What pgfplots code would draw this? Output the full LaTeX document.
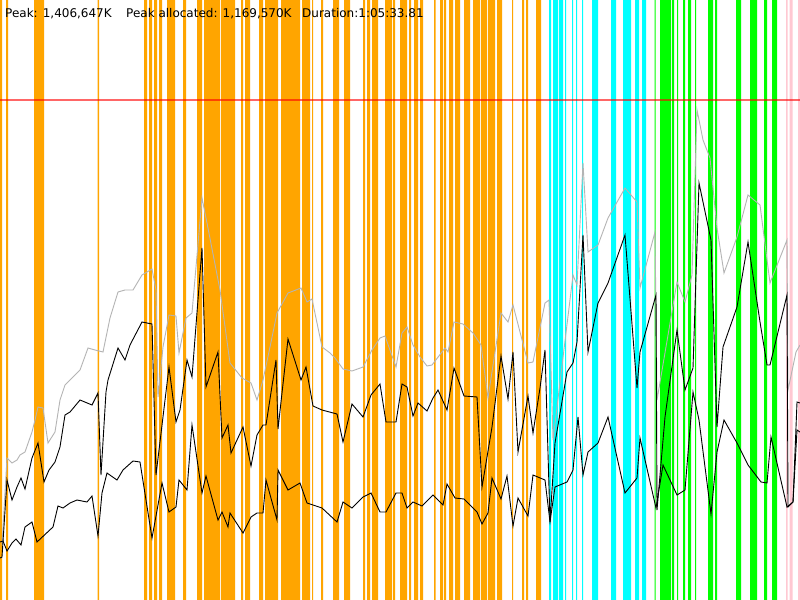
\documentclass[border=0pt]{standalone}
\usepackage{pgfplots}
\pgfplotsset{compat=1.18}
\usepackage{fontspec}
\setmainfont{DejaVu Sans}
\definecolor{gcorange}{RGB}{255,165,0}
\definecolor{gccyan}{RGB}{0,255,255}
\definecolor{gcgreen}{RGB}{0,255,0}
\definecolor{gcpink}{RGB}{255,200,210}
\definecolor{gcgray}{RGB}{180,180,180}
\begin{document}
\begin{tikzpicture}
\fill[white] (0,0) rectangle (800bp,600bp);
\begin{axis}[name=ax, scale only axis, width=800bp, height=600bp,
  xmin=0, xmax=800, ymin=0, ymax=600, y dir=reverse, hide axis, clip=true]
% orange bands
\addplot[const plot, fill=gcorange, draw=none] coordinates {
(0,600)(2,0)(6,600)(8,0)(34,600)(44,0)(97.5,600)(99,0)(144,600)(147,0)(149,600)(152,0)
(154,600)(157,0)(159,600)(162,0)(167,600)(175,0)(183,600)(186,0)(197,600)(202,0)
(204,600)(220,0)(221,600)(235,0)(241,600)(243,0)(245,600)(250,0)(259,600)(263,0)
(265,600)(278,0)(281,600)(300,0)(302,600)(310,0)(312,600)(313,0)(321,600)(323,0)
(333,600)(339,0)(344,600)(350,0)(363,600)(365,0)(367,600)(370,0)(372,600)(378,0)
(385,600)(392,0)(393,600)(395,0)(400,600)(407,0)(409,600)(411,0)(414,600)(418,0)
(420,600)(423,0)(434,600)(435.5,0)(440,600)(443,0)(444,600)(446,0)(449,600)(453,0)
(455,600)(460,0)(464,600)(470,0)(473,600)(480,0)(481,600)(487,0)(488,600)(495,0)
(497,600)(502,0)(512,600)(513,0)(522,600)(524,0)(526,600)(528,0)(536,600)(541,0)
} \closedcycle;
% cyan bands
\addplot[const plot, fill=gccyan, draw=none] coordinates {
(549,600)(551,0)(553,600)(558,0)(559,600)(563,0)(565,600)(566,0)(572,600)(573,0)
(576,600)(577,0)(582,600)(583,0)(592,600)(598,0)(611,600)(616,0)(623,600)(631,0)
(635,600)(639,0)(642,600)(646,0)
} \closedcycle;
% green bands
\addplot[const plot, fill=gcgreen, draw=none] coordinates {
(654.5,600)(655.5,0)(660,600)(671,0)(672,600)(674,0)(677,600)(678,0)(683,600)(685,0)
(688,600)(691,0)(695,600)(696,0)(708,600)(713,0)(715,600)(717,0)(736,600)(741,0)
(750,600)(757,0)(764,600)(767,0)(772,600)(777,0)
} \closedcycle;
% pink bands
\addplot[const plot, fill=gcpink, draw=none] coordinates {
(786,600)(787.5,0)(789.5,600)(792.5,0)(798,600)(800,0)
} \closedcycle;
% gray line
\addplot[gcgray, line width=0.9bp, mark=none] coordinates {
(2,545)(7,458)(12,463)(17,460)(20,455)(25,452)(32,432)(35,420)(38,407)(43,408)(48,443)
(55,432)(60,400)(65,385)(72,378)(80,370)(88,348)(95,350)(103,352)(110,318)(118,292)
(125,290)(133,290)(142,275)(152,269)(156,290)(158,397)(163,347)(169,315)(176,316)
(179,353)(186,318)(192,313)(202,198)(207,223)(220,290)(230,363)(242,378)(251,383)
(257,400)(263,380)(270,347)(277,313)(288,293)(301,288)(307,302)(312,299)(322,347)
(330,353)(335,358)(343,369)(352,371)(363,367)(372,350)(380,338)(385,336)(396,367)
(402,333)(407,327)(413,345)(420,357)(427,366)(432,365)(445,348)(448,352)(454,322)
(463,324)(473,333)(481,345)(488,398)(501,313)(508,322)(513,305)(520,332)(528,363)
(533,362)(545,303)(549,300)(553,440)(573,275)(577,285)(583,163)(588,252)(598,245)
(608,218)(625,188)(637,202)(640,288)(655,232)(657,400)(677,282)(685,302)(692,275)
(697,110)(703,140)(710,158)(717,228)(724,273)(737,237)(748,195)(760,205)(770,283)
(787,240)(788,390)(796,352)(800,345)
};
% upper black line
\addplot[black, line width=0.9bp, mark=none] coordinates {
(0,558)(2,557)(7,480)(12,500)(17,487)(21,478)(25,489)(32,458)(38,443)(44,482)(49,470)
(55,462)(60,447)(65,415)(70,412)(80,400)(92,405)(98,393)(101,475)(106,392)(108,380)
(118,348)(125,360)(130,345)(142,322)(152,324)(156,475)(169,367)(176,422)(180,410)
(187,360)(192,377)(202,248)(206,387)(218,352)(222,438)(228,425)(231,453)(243,427)
(251,466)(257,435)(263,425)(266,425)(276,360)(278,429)(288,339)(301,380)(306,367)
(313,406)(322,410)(337,414)(343,442)(352,404)(363,417)(371,395)(380,384)(386,422)
(396,422)(402,384)(407,387)(413,416)(418,403)(427,411)(433,398)(438,390)(447,410)
(454,368)(464,396)(477,397)(482,487)(492,427)(501,356)(508,399)(513,352)(518,452)
(528,396)(533,433)(540,388)(545,350)(550,522)(555,443)(567,372)(573,363)(577,342)
(583,235)(588,352)(598,303)(608,283)(625,235)(637,388)(640,352)(656,295)(657,510)
(665,417)(677,330)(685,390)(693,368)(699,183)(711,240)(717,427)(723,347)(737,307)
(748,242)(760,322)(767,365)(770,365)(787,295)(788,507)(793,502)(797,402)(800,403)
};
% lower black line
\addplot[black, line width=0.9bp, mark=none] coordinates {
(0,542)(3,541)(7,551)(12,543)(16,539)(21,545)(25,527)(32,522)(37,542)(53,527)(58,506)
(63,508)(70,503)(77,500)(87,502)(92,496)(98,536)(102,493)(107,473)(117,480)(123,470)
(133,461)(140,462)(152,538)(162,483)(169,512)(176,507)(179,480)(187,490)(192,425)
(202,493)(206,476)(218,520)(222,512)(228,527)(230,513)(243,533)(251,517)(257,513)
(263,513)(266,480)(277,520)(278,470)(288,490)(300,483)(307,503)(322,508)(337,522)
(343,502)(352,508)(363,497)(371,493)(380,512)(386,512)(396,493)(402,493)(407,508)
(413,502)(422,506)(433,495)(443,505)(447,484)(455,498)(464,499)(477,512)(482,524)
(488,513)(492,478)(501,499)(507,476)(513,526)(518,498)(528,516)(533,475)(545,480)
(550,522)(555,487)(567,482)(573,470)(578,417)(583,475)(588,452)(598,443)(608,417)
(625,493)(637,478)(640,438)(656,508)(663,465)(677,495)(685,490)(693,392)(699,420)
(711,514)(717,452)(724,420)(737,443)(748,465)(761,482)(767,483)(771,437)(787,507)
(793,502)(797,430)(800,432)
};
% red limit line
\addplot[red, opacity=0.6, line width=2bp, mark=none] coordinates {(0,100)(800,100)};
\node[anchor=base west, inner sep=0pt, font=\fontsize{12bp}{14bp}\selectfont] at (axis cs:5,17.5) {Peak: 1,406,647K};
\node[anchor=base west, inner sep=0pt, font=\fontsize{12bp}{14bp}\selectfont] at (axis cs:126,17.5) {Peak allocated: 1,169,570K};
\node[anchor=base west, inner sep=0pt, font=\fontsize{12bp}{14bp}\selectfont] at (axis cs:302,17.5) {Duration:1:05:33.81};
\end{axis}
\pgfresetboundingbox
\path[use as bounding box] (ax.south west) rectangle (ax.north east);
\end{tikzpicture}
\end{document}
